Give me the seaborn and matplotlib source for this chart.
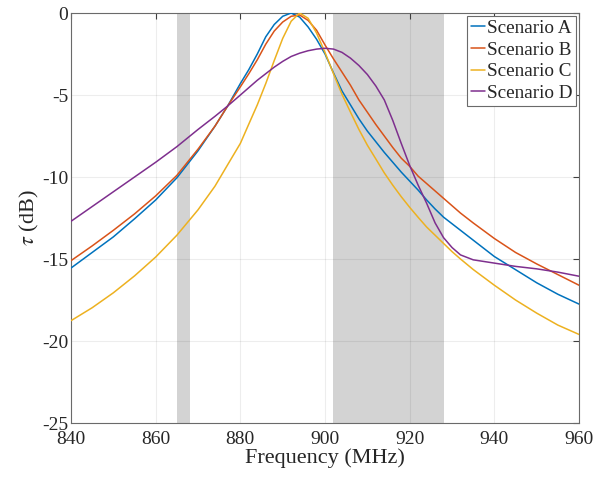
import numpy as np
import pandas as pd
import matplotlib
matplotlib.use("Agg")
import matplotlib.pyplot as plt
import seaborn as sns

# frequency samples (MHz)
freq = [840, 845, 850, 855, 860, 865, 870, 874, 877, 880, 882, 884, 886, 888,
        890, 892, 894, 896, 898, 900, 902, 904, 906, 908, 910, 912, 914, 916,
        918, 920, 922, 924, 926, 928, 930, 932, 935, 940, 945, 950, 955, 960]

scen_a = [-15.55, -14.6, -13.65, -12.55, -11.4, -10.05, -8.4, -6.9, -5.67, -4.3,
          -3.45, -2.5, -1.45, -0.7, -0.2, 0.0, -0.25, -0.85, -1.6, -2.5, -3.65,
          -4.75, -5.6, -6.45, -7.2, -7.85, -8.5, -9.1, -9.7, -10.25, -10.8,
          -11.4, -11.95, -12.45, -12.85, -13.25, -13.85, -14.85, -15.65, -16.45,
          -17.15, -17.75]
scen_b = [-15.1, -14.2, -13.25, -12.25, -11.15, -9.9, -8.3, -6.9, -5.67, -4.5,
          -3.7, -2.85, -1.9, -1.1, -0.55, -0.2, -0.12, -0.45, -1.05, -1.95,
          -2.8, -3.6, -4.4, -5.3, -6.05, -6.8, -7.5, -8.2, -8.85, -9.35, -9.95,
          -10.4, -10.85, -11.3, -11.75, -12.2, -12.8, -13.75, -14.6, -15.3,
          -15.95, -16.6]
scen_c = [-18.76, -17.97, -17.06, -16.03, -14.88, -13.55, -12.0, -10.56, -9.25,
          -7.95, -6.77, -5.6, -4.3, -2.9, -1.55, -0.5, 0.0, -0.32, -1.22, -2.41,
          -3.7, -4.95, -6.04, -7.1, -8.06, -8.9, -9.75, -10.5, -11.2, -11.85,
          -12.46, -13.05, -13.55, -14.05, -14.55, -15.0, -15.64, -16.6, -17.5,
          -18.3, -19.03, -19.6]
scen_d = [-12.7, -11.8, -10.9, -10.0, -9.1, -8.15, -7.1, -6.3, -5.67, -5.0,
          -4.55, -4.1, -3.7, -3.3, -2.95, -2.65, -2.45, -2.3, -2.2, -2.15, -2.2,
          -2.4, -2.75, -3.2, -3.75, -4.45, -5.3, -6.55, -7.95, -9.3, -10.5,
          -11.6, -12.8, -13.7, -14.3, -14.75, -15.05, -15.25, -15.45, -15.6,
          -15.8, -16.05]

labels = ["Scenario A", "Scenario B", "Scenario C", "Scenario D"]
colors = ["#0072BD", "#D95319", "#EDB120", "#7E2F8E"]
bands = [(865, 868), (902, 928)]

df = pd.concat([pd.DataFrame({"freq": freq, "tau": v, "scenario": lab})
                for v, lab in zip([scen_a, scen_b, scen_c, scen_d], labels)])

sns.set_theme(style="white")
plt.rcParams["font.family"] = ["Liberation Serif", "DejaVu Serif"]
plt.rcParams["mathtext.fontset"] = "stix"
plt.rcParams["axes.unicode_minus"] = False

fig = plt.figure(figsize=(6.16, 4.82), dpi=100)
ax = fig.add_axes([0.1153, 0.1224, 0.8247, 0.8506])

for lo, hi in bands:
    ax.axvspan(lo, hi, color="#d3d3d3", lw=0, zorder=0.1)

sns.lineplot(data=df, x="freq", y="tau", hue="scenario", palette=colors,
             linewidth=1.1, ax=ax, zorder=3, sort=False)

ax.set_xlim(840, 960)
ax.set_ylim(-25, 0)
ax.set_xticks(np.arange(840, 961, 20))
ax.set_yticks(np.arange(-25, 1, 5))
ax.set_axisbelow(True)
ax.grid(True, color="k", alpha=0.08, linewidth=0.8)
ax.tick_params(direction="in", length=4, width=0.8, colors="#404040",
               labelsize=14, top=True, right=True, labelcolor="#262626")
ax.tick_params(axis="x", pad=6)
ax.tick_params(axis="y", pad=2)
for s in ax.spines.values():
    s.set_color("#6a6a6a")
    s.set_linewidth(0.8)
ax.set_xlabel("Frequency (MHz)", fontsize=16, color="#262626", labelpad=0)
ax.set_ylabel(r"$\tau$ (dB)", fontsize=16, color="#262626", labelpad=1)

handles, _ = ax.get_legend_handles_labels()
leg = ax.legend(handles, labels, loc="upper right", fontsize=13.8,
                frameon=True, fancybox=False, edgecolor="#6a6a6a",
                framealpha=1, handlelength=0.75, handletextpad=0.1,
                labelspacing=0.22, borderpad=0.2, borderaxespad=0.15)
leg.get_frame().set_linewidth(0.8)

fig.savefig("out.png", dpi=100)
